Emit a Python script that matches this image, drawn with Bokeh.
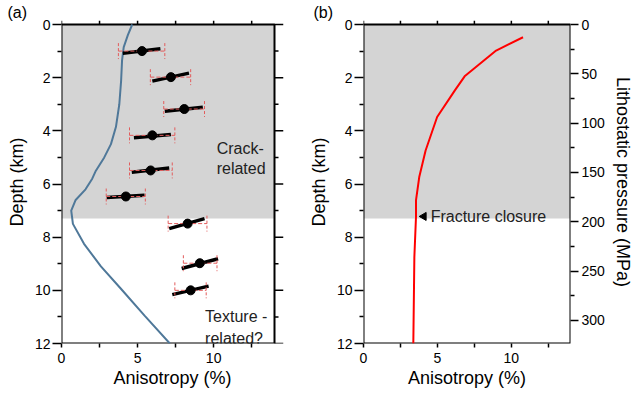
import numpy as np
from bokeh.plotting import figure
from bokeh.models import Range1d, LinearAxis, FixedTicker, ColumnDataSource
from bokeh.layouts import row
from bokeh.core.properties import value
from bokeh.embed import file_html
from bokeh.resources import INLINE

FONT = "Liberation Sans"

# ---------------- data ----------------
x_max = 14
depth_max = 12
closure_depth = 7.3
pressure_max = 323.4

# panel (a) observations
obs_depth = [1.0, 1.98, 3.18, 4.17, 5.49, 6.47, 7.49, 8.98, 10.0]
obs_aniso = [5.29, 7.19, 8.07, 5.97, 5.86, 4.23, 8.29, 9.09, 8.49]
obs_err_lo = [3.74, 5.84, 6.72, 4.47, 4.47, 2.94, 7.01, 8.01, 7.45]
obs_err_hi = [6.79, 8.49, 9.40, 7.45, 7.28, 5.51, 9.56, 10.22, 9.51]
trend_x0 = [4.03, 5.97, 6.79, 4.76, 4.62, 2.97, 7.08, 7.90, 7.28]
trend_x1 = [6.50, 8.38, 9.29, 7.19, 7.08, 5.46, 9.40, 10.29, 9.67]
trend_d0 = [1.08, 2.13, 3.26, 4.26, 5.56, 6.51, 7.68, 9.18, 10.16]
trend_d1 = [0.91, 1.83, 3.11, 4.14, 5.40, 6.42, 7.30, 8.81, 9.84]

# panel (a) model curve
model_depth = [0, 0.4, 0.85, 1.35, 2.1, 3.0, 3.85, 4.5, 5.0, 5.5, 5.8, 6.2, 6.6, 7.0, 7.5, 8.25, 9.1, 9.95, 10.95, 12.0]
model_aniso = [4.65, 4.36, 4.09, 3.98, 3.92, 3.80, 3.58, 3.25, 2.81, 2.26, 2.02, 1.58, 0.93, 0.64, 0.75, 1.48, 2.59, 3.92, 5.46, 7.12]

# panel (b) crack curve
crack_depth = [0.48, 0.98, 1.95, 2.48, 3.48, 4.74, 5.74, 6.62, 7.24, 8.75, 12.0]
crack_aniso = [10.79, 8.97, 6.84, 6.18, 4.98, 4.20, 3.77, 3.55, 3.55, 3.44, 3.37]

# text annotations
a_text = ["Crack-", "related", "Texture -", "related?"]
a_text_x = [10.2, 10.2, 9.44, 9.44]
a_text_depth = [4.67, 5.43, 11.0, 11.82]
closure_text = ["Fracture closure"]
closure_text_x = [4.54]
closure_arrow_x = [4.08]
closure_mark_depth = [7.22]

depth_ticks = [0, 2, 4, 6, 8, 10, 12]
depth_minor = [1, 3, 5, 7, 9, 11]
aniso_ticks = [0, 5, 10]
aniso_minor = [2.5, 7.5, 12.5]
top_ticks = [0, 2.5, 5, 7.5, 10, 12.5]
pressure_ticks = [0, 50, 100, 150, 200, 250, 300]
pressure_minor = [25, 75, 125, 175, 225, 275]

# pixel style constants
TICK = 9
MINOR = 4
FRAME_H = 319
TITLE_H = 20


def style_axis(ax):
    ax.axis_line_color = "black"
    ax.axis_line_width = 2
    ax.major_tick_line_color = "black"
    ax.minor_tick_line_color = "black"
    ax.major_tick_line_width = 1.5
    ax.minor_tick_line_width = 1.5
    ax.major_tick_in = 0
    ax.minor_tick_in = 0
    ax.major_label_text_font = FONT
    ax.major_label_text_font_size = "14px"
    ax.major_label_text_color = "black"
    ax.axis_label_text_font = FONT
    ax.axis_label_text_font_size = "18px"
    ax.axis_label_text_font_style = "normal"
    ax.axis_label_text_color = "black"


def make_fig(left, frame_w, right, panel_label, title_shift, pressure_axis=False):
    # the frame extends above the box (and to the right of box (a)) so that the
    # outward ticks of the top / right edges are drawn inside the frame
    top_border = TITLE_H
    ypad_px = 24 - top_border
    ypad = depth_max * ypad_px / FRAME_H
    xpad = 0 if pressure_axis else x_max * TICK / frame_w
    width = left + frame_w + (0 if pressure_axis else TICK) + right
    p = figure(width=width, height=392,
               x_range=Range1d(0, x_max + xpad), y_range=Range1d(depth_max, -ypad),
               output_backend="svg", toolbar_location=None,
               min_border_left=left, min_border_right=right,
               min_border_top=top_border, min_border_bottom=49)
    p.grid.visible = False
    p.outline_line_color = None
    p.background_fill_color = "white"
    p.border_fill_color = "white"

    xa = p.xaxis[0]
    style_axis(xa)
    xa.ticker = FixedTicker(ticks=aniso_ticks, minor_ticks=aniso_minor)
    xa.axis_line_color = None
    xa.major_tick_out = 4
    xa.minor_tick_out = 4
    xa.major_label_standoff = 5
    xa.axis_label = "Anisotropy (%)"
    xa.axis_label_standoff = 2

    ya = p.yaxis[0]
    style_axis(ya)
    ya.ticker = FixedTicker(ticks=depth_ticks, minor_ticks=depth_minor)
    ya.axis_line_color = None
    ya.major_tick_out = TICK
    ya.minor_tick_out = MINOR
    ya.major_label_standoff = 2
    ya.axis_label = "Depth (km)"
    ya.axis_label_standoff = 5

    if pressure_axis:
        p.extra_y_ranges = {"p": Range1d(pressure_max, -ypad * pressure_max / depth_max)}
        ra = LinearAxis(y_range_name="p", ticker=FixedTicker(ticks=pressure_ticks, minor_ticks=pressure_minor))
        style_axis(ra)
        ra.axis_line_color = None
        ra.major_tick_out = 8
        ra.minor_tick_out = MINOR
        ra.major_label_standoff = 3
        ra.axis_label = "Lithostatic pressure (MPa)"
        ra.axis_label_standoff = 5
        p.add_layout(ra, "right")

    # shaded crack zone
    p.quad(left=[0], right=[x_max], top=[0], bottom=[closure_depth],
           fill_color="#d4d4d4", line_color=None)

    # box outline
    p.line(x=[0, 0, x_max, x_max, 0], y=[depth_max, 0, 0, depth_max, depth_max],
           line_color="black", line_width=2)

    # outward ticks on the top edge
    tick_len = ypad
    p.multi_line(xs=[[t, t] for t in top_ticks], ys=[[0, -tick_len] for _ in top_ticks],
                 line_color="black", line_width=1.5)

    if not pressure_axis:
        minor_len = xpad * MINOR / TICK
        p.multi_line(xs=[[x_max, x_max + xpad] for _ in depth_ticks], ys=[[d, d] for d in depth_ticks],
                     line_color="black", line_width=1.5)
        p.multi_line(xs=[[x_max, x_max + minor_len] for _ in depth_minor], ys=[[d, d] for d in depth_minor],
                     line_color="black", line_width=1.5)

    p.title.text = panel_label
    p.title.text_font = FONT
    p.title.text_font_size = "16px"
    p.title.text_font_style = "normal"
    p.title.text_color = "black"
    p.title.align = "left"
    p.title.offset = title_shift
    p.title.standoff = 0
    return p


# ---------------- panel (a) ----------------
pa = make_fig(61, 213, 17, "(a)", -54)

pa.line(model_aniso, model_depth, line_color="#4f7899", line_width=2)

src = ColumnDataSource(dict(depth=obs_depth, aniso=obs_aniso, lo=obs_err_lo, hi=obs_err_hi,
                            tx0=trend_x0, tx1=trend_x1, td0=trend_d0, td1=trend_d1,
                            cap0=[d - 0.3 for d in obs_depth], cap1=[d + 0.3 for d in obs_depth]))
pa.segment(x0="tx0", y0="td0", x1="tx1", y1="td1", source=src, line_color="black", line_width=3.5)
pa.segment(x0="lo", y0="depth", x1="hi", y1="depth", source=src,
           line_color="#e25c5c", line_width=1, line_dash="4 2")
pa.segment(x0="lo", y0="cap0", x1="lo", y1="cap1", source=src,
           line_color="#e25c5c", line_width=1, line_dash="3 2")
pa.segment(x0="hi", y0="cap0", x1="hi", y1="cap1", source=src,
           line_color="#e25c5c", line_width=1, line_dash="3 2")
pa.scatter("aniso", "depth", source=src, size=9, fill_color="black", line_color="black")

pa.text(x=a_text_x, y=a_text_depth, text=a_text, text_font=value(FONT), text_font_size="16px",
        text_color="#222222", text_align="left", text_baseline="alphabetic")

# ---------------- panel (b) ----------------
pb = make_fig(63, 212, 60, "(b)", -50, pressure_axis=True)

pb.line(crack_aniso, crack_depth, line_color="#ff0000", line_width=2)
pb.scatter(closure_arrow_x, closure_mark_depth, marker="triangle", angle=np.pi / 2, size=8,
           fill_color="black", line_color="black")
pb.text(x=closure_text_x, y=closure_mark_depth, text=closure_text, text_font=value(FONT),
        text_font_size="16px", text_color="#222222", text_align="left", text_baseline="middle")

layout = row(pa, pb)
open("out.html", "w").write(file_html(layout, INLINE))
